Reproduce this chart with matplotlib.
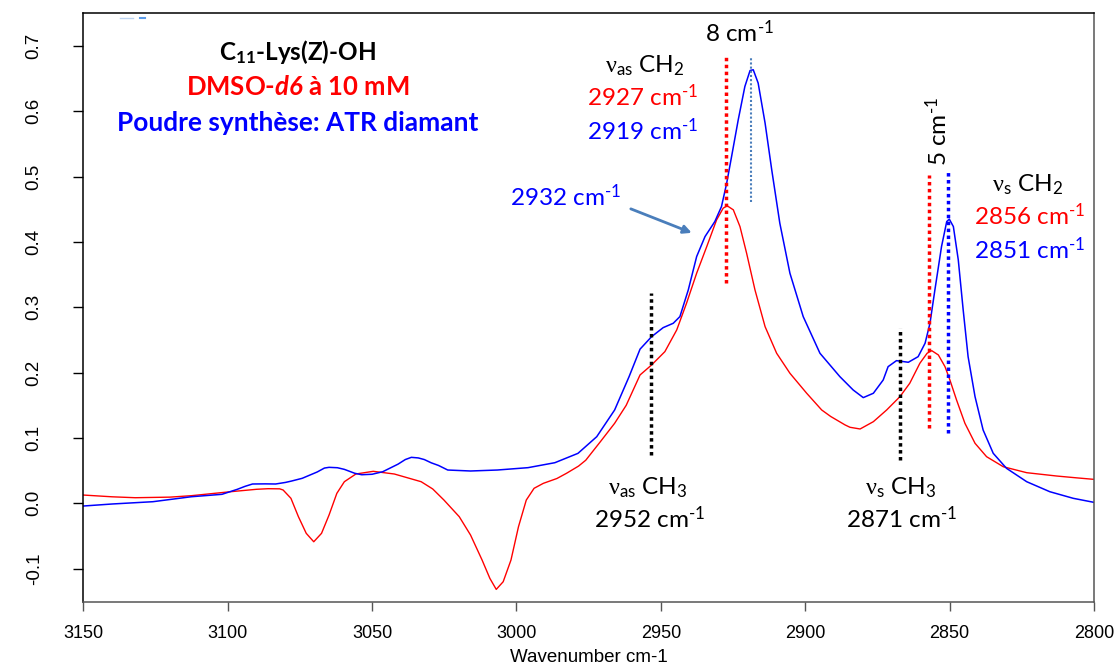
import matplotlib
matplotlib.use("Agg")
import matplotlib.pyplot as plt
from matplotlib.lines import Line2D

plt.rcParams['font.family'] = ['Liberation Sans', 'DejaVu Sans']
plt.rcParams['mathtext.fontset'] = 'custom'
plt.rcParams['mathtext.rm'] = 'Lato'
plt.rcParams['mathtext.it'] = 'Lato:italic'
plt.rcParams['mathtext.bf'] = 'Lato:bold'
plt.rcParams['mathtext.bfit'] = 'Lato:italic:bold'
plt.rcParams['mathtext.sf'] = 'Liberation Serif'

# ---------------- data ----------------
red_wave = [3150, 3140, 3132, 3120, 3112.6, 3099, 3090, 3086, 3082, 3080.8, 3078.1, 3075.5,
            3072.8, 3070.2, 3067.5, 3064.9, 3062.2, 3059.6, 3055.6, 3049.6, 3042.3, 3033, 3029,
            3025.1, 3019.8, 3015.9, 3011.9, 3009.2, 3007, 3004.6, 3001.9, 2999.3, 2996.6, 2993.9,
            2990.7, 2986, 2982.7, 2978.5, 2976, 2971, 2966, 2962, 2957.2, 2953.2, 2948.6,
            2944.5, 2941.1, 2937.6, 2934.1, 2930.7, 2928.4, 2927, 2924.9, 2922.6, 2920.3, 2917.4,
            2913.9, 2909.9, 2905.3, 2899.5, 2894.3, 2891.2, 2886.2, 2884.5, 2881, 2876.4, 2871.8,
            2867.2, 2863.8, 2860.3, 2857.8, 2856.2, 2853.9, 2851.6, 2849.9, 2847.6, 2844.7,
            2841.2, 2837.2, 2831.4, 2823.3, 2812.9, 2806, 2800]
red_abs = [0.0127, 0.010, 0.0086, 0.0095, 0.0117, 0.0178, 0.0215, 0.0224, 0.0222, 0.0204, 0.0077, -0.0205,
           -0.0459, -0.0588, -0.0459, -0.0179, 0.0153, 0.0331, 0.0449, 0.049, 0.0449, 0.0331, 0.022,
           0.005, -0.0205, -0.0485, -0.0868, -0.1149, -0.1317, -0.120, -0.0868, -0.0358, 0.005, 0.023,
           0.0306, 0.038, 0.0459, 0.057, 0.066, 0.094, 0.1225, 0.150, 0.1965, 0.2118, 0.2322,
           0.2654, 0.3063, 0.3522, 0.393, 0.4338, 0.4518, 0.4553, 0.4492, 0.4236, 0.3828, 0.3266,
           0.2704, 0.2297, 0.1991, 0.1685, 0.1429, 0.1330, 0.1200, 0.1164, 0.1138, 0.125, 0.1429,
           0.1633, 0.1838, 0.2144, 0.2297, 0.2337, 0.2271, 0.2092, 0.1888, 0.1582, 0.1225,
           0.0919, 0.0714, 0.056, 0.0469, 0.0418, 0.039, 0.0367]

blue_wave = [3150, 3140, 3125.9, 3112.6, 3102, 3096.7, 3094, 3091.4, 3087, 3083.4, 3080, 3078, 3074.2,
             3069, 3066.5, 3064.9, 3062, 3059.6, 3056, 3053.6, 3050, 3046.3, 3041, 3038.5, 3036.4,
             3034, 3031.9, 3029.5, 3027, 3023.8, 3015.9,
             3006.6, 2996, 2986.7, 2978.7, 2972.2, 2966, 2961, 2957.2, 2953.2, 2949.2, 2945.7,
             2943.4, 2940.5, 2937.6, 2934.7, 2931.3, 2929, 2927.2, 2925.5, 2923.2, 2920.9, 2919.1,
             2918, 2916.3, 2913.9, 2911.6, 2908.8, 2905.3, 2900.7, 2894.9, 2888, 2883.4, 2879.9,
             2876.4, 2873, 2871.3, 2868.4, 2864.3, 2860.9, 2858.5, 2856.8, 2855.1, 2852.8, 2851,
             2850.1, 2848.7, 2847, 2845.3, 2843.6, 2841.2, 2838.4, 2834.9, 2830.3, 2823.3, 2815.3,
             2807.2, 2800]
blue_abs = [-0.0041, -0.001, 0.0025, 0.0101, 0.0138, 0.0214, 0.026, 0.0296, 0.0298, 0.0296, 0.032, 0.034, 0.0383,
            0.048, 0.054, 0.0551, 0.0545, 0.052, 0.046, 0.0438, 0.0445, 0.0484, 0.060, 0.067, 0.0704,
            0.0695, 0.067, 0.062, 0.058, 0.051, 0.0495,
            0.051, 0.0546, 0.0622, 0.0765, 0.102, 0.1429, 0.1939, 0.236, 0.2551, 0.2689, 0.2756,
            0.2858, 0.3266, 0.3777, 0.4083, 0.4313, 0.4542, 0.490, 0.5308, 0.587, 0.638, 0.6625,
            0.6636, 0.6432, 0.5819, 0.5104, 0.4288, 0.3522, 0.2858, 0.2297, 0.1939, 0.1735, 0.1618,
            0.1685, 0.1888, 0.2092, 0.2184, 0.2159, 0.2245, 0.245, 0.2756, 0.3266, 0.393, 0.4313,
            0.4349, 0.4236, 0.3726, 0.296, 0.2245, 0.1633, 0.1123, 0.0766, 0.0536, 0.0331, 0.0178,
            0.0077, 0.0015]

x_ticks = [3150, 3100, 3050, 3000, 2950, 2900, 2850, 2800]
y_ticks = [-0.1, 0.0, 0.1, 0.2, 0.3, 0.4, 0.5, 0.6, 0.7]
y_tick_labels = ["-0.1", "0.0", "0.1", "0.2", "0.3", "0.4", "0.5", "0.6", "0.7"]

# marker lines: (wavenumber, y_start, y_end)
red_mark_ch2as = (2927.3, 0.3374, 0.6865)
blue_mark_ch2as = (2918.9, 0.461, 0.682)
red_mark_ch2s = (2857.2, 0.1148, 0.5028)
blue_mark_ch2s = (2850.4, 0.1072, 0.5078)
black_mark_ch3as = (2953.3, 0.074, 0.3221)
black_mark_ch3s = (2867.2, 0.067, 0.268)

# ---------------- figure ----------------
fig = plt.figure(figsize=(11.14, 6.68), dpi=100)
ax = fig.add_axes([83.3 / 1114, 1 - 602 / 668, (1094 - 83.3) / 1114, (602 - 13.3) / 668])

ax.plot(red_wave, red_abs, color='#ff0000', lw=1.0)
ax.plot(blue_wave, blue_abs, color='#0000ff', lw=1.1)

ax.set_xlim(3150, 2800)
ax.set_ylim(-0.151, 0.750)

ax.set_xticks(x_ticks)
ax.set_xticklabels([str(v) for v in x_ticks])
ax.set_yticks(y_ticks)
ax.set_yticklabels(y_tick_labels, rotation=90, va='center')

ax.tick_params(axis='x', length=6.5, width=1.0, color='#555555', pad=10, labelsize=13)
ax.tick_params(axis='y', length=7.2, width=1.0, color='black', pad=22, labelsize=13.5)

ax.spines['left'].set_color('black')
ax.spines['top'].set_color('black')
ax.spines['bottom'].set_color('#555555')
ax.spines['right'].set_color('#555555')
for s in ax.spines.values():
    s.set_linewidth(1.1)

fig.text((83.3 + 1094) / 2 / 1114, 1 - 657 / 668, "Wavenumber cm-1", fontsize=13.5,
         ha='center', va='center')

# dotted marker lines
def vmark(m, color, lw):
    w, y0, y1 = m
    ax.plot([w, w], [y0, y1], color=color, lw=lw, linestyle=(0, (1, 1)),
            dash_capstyle='butt', solid_capstyle='butt')

vmark(red_mark_ch2as, '#ff0000', 2.5)
vmark(blue_mark_ch2as, '#4a7ebb', 1.5)
vmark(red_mark_ch2s, '#ff0000', 2.5)
vmark(blue_mark_ch2s, '#0000ff', 2.5)
vmark(black_mark_ch3as, '#000000', 2.5)
vmark(black_mark_ch3s, '#000000', 2.5)

# annotations
AF = 'Lato'
FS = 17.5
sup = r"$^{\text{-1}}$"

ax.text(3075.7, 0.691, r"C$_{\mathbf{11}}$-Lys(Z)-OH", family=AF, fontsize=17.5, fontweight='bold',
        color='black', ha='center', va='center')
ax.text(3075.7, 0.637, r"DMSO-$\mathbfit{d6}$ à 10 mM", family=AF, fontsize=18.5, fontweight='bold',
        color='#ff0000', ha='center', va='center')
ax.text(3075.7, 0.582, "Poudre synthèse: ATR diamant", family=AF, fontsize=18.9, fontweight='bold',
        color='#0000ff', ha='center', va='center')

ax.text(2922.6, 0.720, "8 cm" + sup, family=AF, fontsize=FS, color='black', ha='center', va='center')
ax.text(2955.5, 0.670, r"$\mathsf{\nu}_{\mathdefault{as}}$ CH$_{\mathdefault{2}}$", family=AF, fontsize=FS,
        color='black', ha='center', va='center')
ax.text(2956.2, 0.622, "2927 cm" + sup, family=AF, fontsize=FS, color='#ff0000', ha='center', va='center')
ax.text(2956.2, 0.570, "2919 cm" + sup, family=AF, fontsize=FS, color='#0000ff', ha='center', va='center')

ax.text(2982.9, 0.469, "2932 cm" + sup, family=AF, fontsize=FS, color='#0000ff', ha='center', va='center')
ax.annotate("", xy=(2939.3, 0.414), xytext=(2960.4, 0.4507),
            arrowprops=dict(arrowstyle='-|>', color='#4a7ebb', lw=2.0, mutation_scale=12,
                            shrinkA=0, shrinkB=0))

ax.text(2854.05, 0.569, "5 cm" + sup, family=AF, fontsize=FS, color='black', ha='center', va='center',
        rotation=90)
ax.text(2822.9, 0.4875, r"$\mathsf{\nu}_{\mathdefault{s}}$ CH$_{\mathdefault{2}}$", family=AF, fontsize=FS,
        color='black', ha='center', va='center')
ax.text(2822.2, 0.440, "2856 cm" + sup, family=AF, fontsize=FS, color='#ff0000', ha='center', va='center')
ax.text(2822.2, 0.388, "2851 cm" + sup, family=AF, fontsize=FS, color='#0000ff', ha='center', va='center')

ax.text(2954.4, 0.0234, r"$\mathsf{\nu}_{\mathdefault{as}}$ CH$_{\mathdefault{3}}$", family=AF, fontsize=FS,
        color='black', ha='center', va='center')
ax.text(2953.8, -0.0227, "2952 cm" + sup, family=AF, fontsize=FS, color='black', ha='center', va='center')
ax.text(2866.9, 0.0234, r"$\mathsf{\nu}_{\mathdefault{s}}$ CH$_{\mathdefault{3}}$", family=AF, fontsize=FS,
        color='black', ha='center', va='center')
ax.text(2866.5, -0.0227, "2871 cm" + sup, family=AF, fontsize=FS, color='black', ha='center', va='center')

# faint fragment at the top-left of the frame
fig.add_artist(Line2D([120 / 1114, 133 / 1114], [1 - 18 / 668, 1 - 18 / 668], color='#bcd3f0', lw=1.0))
fig.add_artist(Line2D([140 / 1114, 145 / 1114], [1 - 17.5 / 668, 1 - 17.5 / 668], color='#5b9be8', lw=1.5))

fig.savefig("out.png", dpi=100)
